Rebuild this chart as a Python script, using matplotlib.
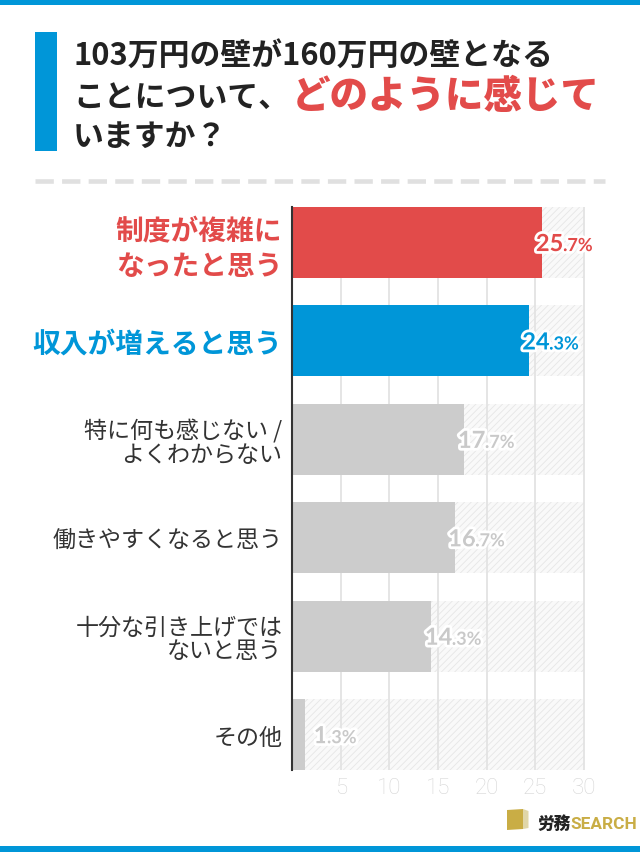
import matplotlib
matplotlib.use("Agg")
import matplotlib.pyplot as plt
from matplotlib.patches import Rectangle, Polygon
from matplotlib.lines import Line2D
import matplotlib.patheffects as pe
import logging
logging.getLogger('matplotlib.font_manager').setLevel(logging.ERROR)

# ---- data ----
categories = ['制度が複雑に\nなったと思う', '収入が増えると思う', '特に何も感じない /\nよくわからない',
              '働きやすくなると思う', '十分な引き上げでは\nないと思う', 'その他']
values = [25.7, 24.3, 17.7, 16.7, 14.3, 1.3]
xticks = [5, 10, 15, 20, 25, 30]
xmax = 30

title_line1 = '103万円の壁が160万円の壁となる'
title_line2a = 'ことについて、'
title_line2b = 'どのように感じて'
title_line3 = 'いますか？'

RED = '#e24b4a'
BLUE = '#0096d8'
GREY = '#cccccc'
bar_colors = [RED, BLUE, GREY, GREY, GREY, GREY]
label_colors = [RED, BLUE, '#c9c9c9', '#c9c9c9', '#c9c9c9', '#c9c9c9']
JP = ['Noto Sans CJK JP', 'DejaVu Sans']

W, H = 640, 853
plt.rcParams['hatch.linewidth'] = 0.6
fig = plt.figure(figsize=(W / 100, H / 100), dpi=100)
fig.patch.set_facecolor('white')

def fx(x):
    return x / W

def fy(y):
    return 1 - y / H

# frame bands
fig.add_artist(Rectangle((0, fy(6)), 1, 6 / H, transform=fig.transFigure, color=BLUE, lw=0))
fig.add_artist(Rectangle((0, 0), 1, 6 / H, transform=fig.transFigure, color=BLUE, lw=0))
# title accent bar
fig.add_artist(Rectangle((fx(35), fy(152)), 22 / W, 119 / H, transform=fig.transFigure, color=BLUE, lw=0))

# title
fig.text(fx(73), fy(66), title_line1, family=JP, weight='bold', fontsize=22.2, color='#222222', va='baseline')
t2a = fig.text(fx(73), fy(107), title_line2a, family=JP, weight='bold', fontsize=22.2, color='#222222', va='baseline')
fig.text(fx(73), fy(146), title_line3, family=JP, weight='bold', fontsize=22.2, color='#222222', va='baseline')

# dashed separator
fig.add_artist(Line2D([fx(35), fx(605)], [fy(182), fy(182)], transform=fig.transFigure,
                      color='#e0e0e0', lw=3.3, dashes=(4.0, 1.8), solid_capstyle='butt'))

# axes
ax_left, ax_right = 292, 292 + 292 * 30.15 / 30
ax_top, ax_bot = 208, 771
ax = fig.add_axes([fx(ax_left), fy(ax_bot), (ax_right - ax_left) / W, (ax_bot - ax_top) / H])
ypos = list(range(len(categories)))
h = 0.72
ax.barh(ypos, [xmax - v for v in values], left=values, height=h, color='#f9f9f9',
        edgecolor='#e6e6e6', hatch='/////', lw=0, zorder=0.3)
ax.barh(ypos, values, height=h, color=bar_colors, lw=0, zorder=2)
ax.set_xlim(0, 30.15)
ax.set_ylim(len(categories) - 1 + h / 2, -h / 2)
ax.set_xticks(xticks)
ax.set_xticklabels([str(t) for t in xticks])
ax.set_axisbelow(True)
ax.grid(axis='x', color='#e3e3e3', lw=1.3, zorder=0.5)
for s in ['top', 'right', 'bottom']:
    ax.spines[s].set_visible(False)
ax.spines['left'].set_color('#333333')
ax.spines['left'].set_linewidth(1.5)
ax.spines['left'].set_zorder(3)
ax.tick_params(axis='x', length=0, pad=5, labelcolor='#d6d6d6', labelsize=16)
for lab in ax.get_xticklabels():
    lab.set_family(['Roboto', 'DejaVu Sans'])
    lab.set_fontweight('light')
ax.set_yticks(ypos)
ax.set_yticklabels(categories)
ax.tick_params(axis='y', length=0, pad=7)
for i, lab in enumerate(ax.get_yticklabels()):
    lab.set_family(JP)
    if i < 2:
        lab.set_fontsize(20)
        lab.set_fontweight('bold')
        lab.set_color(bar_colors[i])
        lab.set_linespacing(1.3)
    else:
        lab.set_fontsize(16.6)
        lab.set_color('#333333')
        lab.set_linespacing(1.02)

# value labels: integer part large, fraction smaller
stroke = [pe.withStroke(linewidth=4, foreground='white')]
ints = []
for i, v in enumerate(values):
    s = f'{v:.1f}'
    ip, fp = s.split('.')
    off = -4.5 if v > 5 else 6.5
    t = ax.annotate(ip, xy=(v, i), xytext=(off, -6.2), textcoords='offset points',
                    ha='left', va='baseline', fontsize=17, fontweight='bold', family=['Lato', 'DejaVu Sans'],
                    color=label_colors[i], path_effects=stroke, zorder=5)
    ints.append((t, off, '.' + fp + '%', i, v))

fig.canvas.draw()
r = fig.canvas.get_renderer()
for t, off, frac, i, v in ints:
    bb = t.get_window_extent(r)
    wpt = bb.width * 72 / fig.dpi
    ax.annotate(frac, xy=(v, i), xytext=(off + wpt - 0.3, -6.2), textcoords='offset points',
                ha='left', va='baseline', fontsize=13, fontweight='bold', family=['Lato', 'DejaVu Sans'],
                color=label_colors[i], path_effects=stroke, zorder=5)

bb2 = t2a.get_window_extent(r)
fig.text(bb2.x1 / W + 0.004, fy(108), title_line2b, family=JP, weight='black', fontsize=27.7, color=RED, va='baseline')

# logo
fig.add_artist(Polygon([(fx(507), fy(811)), (fx(523), fy(810)), (fx(523), fy(830)), (fx(507), fy(831))],
                       closed=True, transform=fig.transFigure, color='#c9ad45', lw=0))
fig.add_artist(Polygon([(fx(523), fy(810)), (fx(528.5), fy(812)), (fx(528.5), fy(829)), (fx(523), fy(830))],
                       closed=True, transform=fig.transFigure, color='#e0d6a8', lw=0))
lt = fig.text(fx(537), fy(829), '労務', family=JP, weight='black', fontsize=12, color='#222222', va='baseline')
fig.canvas.draw()
r = fig.canvas.get_renderer()
bl = lt.get_window_extent(r)
st = fig.text(bl.x1 / W, fy(829), 'SEARCH', family=['Liberation Sans Narrow', 'Roboto', 'DejaVu Sans'],
              weight='bold', fontsize=15, color='#c9ad45', va='baseline')
target = 637 - bl.x1
for _ in range(4):
    w = st.get_window_extent(r).width
    if w > target:
        st.set_fontsize(st.get_fontsize() * target / w)
    else:
        break

fig.savefig('out.png', dpi=100, facecolor='white')
